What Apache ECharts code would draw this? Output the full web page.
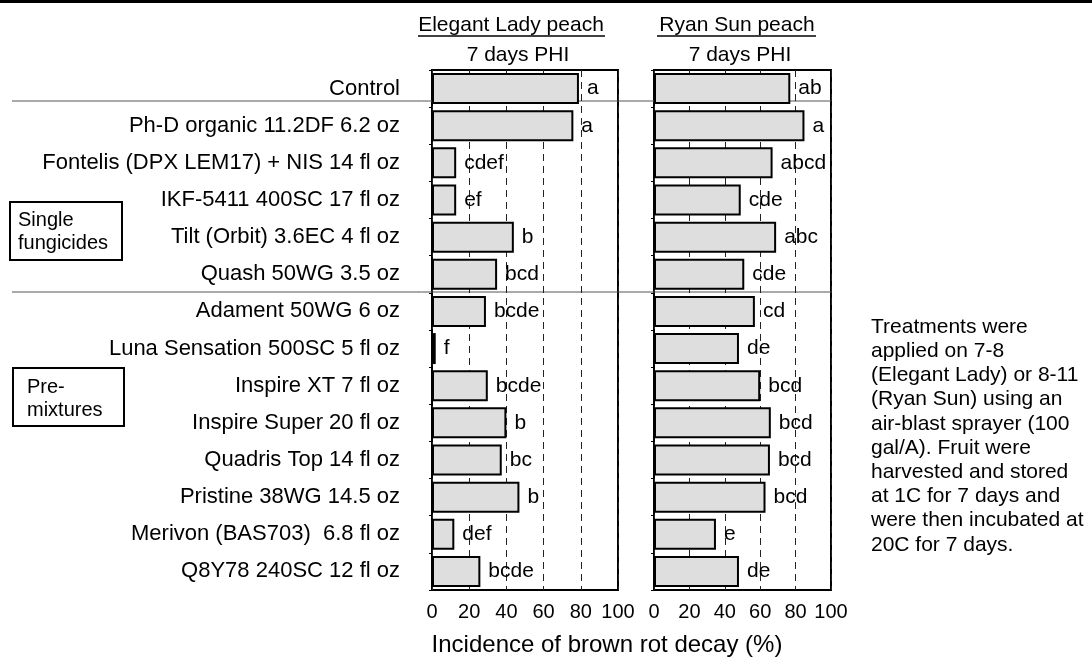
<!DOCTYPE html>
<html>
<head>
<meta charset="utf-8">
<script src="https://cdn.jsdelivr.net/npm/echarts@6/dist/echarts.min.js"></script>
<style>
  html, body { margin: 0; padding: 0; background: #fff; }
  #main { width: 1092px; height: 657px; }
</style>
</head>
<body>
<div id="main"></div>
<script>
// treatments, top to bottom
var categories = [
  'Control',
  'Ph-D organic 11.2DF 6.2 oz',
  'Fontelis (DPX LEM17) + NIS 14 fl oz',
  'IKF-5411 400SC 17 fl oz',
  'Tilt (Orbit) 3.6EC 4 fl oz',
  'Quash 50WG 3.5 oz',
  'Adament 50WG 6 oz',
  'Luna Sensation 500SC 5 fl oz',
  'Inspire XT 7 fl oz',
  'Inspire Super 20 fl oz',
  'Quadris Top 14 fl oz',
  'Pristine 38WG 14.5 oz',
  'Merivon (BAS703)  6.8 fl oz',
  'Q8Y78 240SC 12 fl oz'
]
// Elegant Lady peach, incidence (%)
var elegantValues = [79, 76, 13, 13, 44, 35, 29, 2, 30, 40, 37.5, 47, 12, 26]
var elegantLetters = ['a', 'a', 'cdef', 'ef', 'b', 'bcd', 'bcde', 'f', 'bcde', 'b', 'bc', 'b', 'def', 'bcde']
// Ryan Sun peach, incidence (%)
var ryanValues = [77, 85, 67, 49, 69, 51, 57, 48, 60, 66, 65.5, 63, 35, 48]
var ryanLetters = ['ab', 'a', 'abcd', 'cde', 'abc', 'cde', 'cd', 'de', 'bcd', 'bcd', 'bcd', 'bcd', 'e', 'de']
var xTicks = [0, 20, 40, 60, 80, 100]

var noteLines = [
  'Treatments were',
  'applied on 7-8',
  '(Elegant Lady) or 8-11',
  '(Ryan Sun) using an',
  'air-blast sprayer (100',
  'gal/A). Fruit were',
  'harvested and stored',
  'at 1C for 7 days and',
  'were then incubated at',
  '20C for 7 days.'
]

var FONT = '"Liberation Sans", Arial, sans-serif'

var chart = echarts.init(document.getElementById('main'))

function xAxisFor (gridIndex) {
  return {
    type: 'value',
    gridIndex: gridIndex,
    min: xTicks[0],
    max: xTicks[xTicks.length - 1],
    interval: 20,
    axisLine: { show: false },
    axisTick: { show: false },
    axisLabel: { color: '#000', fontSize: 20, fontFamily: FONT, margin: 12 },
    splitLine: { show: true, lineStyle: { color: '#222', type: [7, 5], width: 1 } }
  }
}

function yAxisFor (gridIndex, showLabels) {
  return {
    type: 'category',
    gridIndex: gridIndex,
    data: categories,
    inverse: true,
    axisLine: { show: false },
    axisTick: { show: true, length: 3, lineStyle: { color: '#000' } },
    axisLabel: { show: showLabels, color: '#000', fontSize: 22, fontFamily: FONT, margin: 32 }
  }
}

function barSeries (idx, values, letters) {
  return {
    type: 'bar',
    xAxisIndex: idx,
    yAxisIndex: idx,
    data: values,
    barWidth: 31,
    itemStyle: { color: '#dedede', borderColor: '#000', borderWidth: 2 },
    label: {
      show: true,
      position: 'right',
      distance: 8,
      color: '#000',
      fontSize: 21,
      fontFamily: FONT,
      formatter: function (p) { return letters[p.dataIndex] }
    },
    z: 3
  }
}

var graphics = [
  { type: 'rect', shape: { x: 0, y: 0, width: 1092, height: 3 }, style: { fill: '#000' } },
  // separators between control / single / premixes
  { type: 'line', shape: { x1: 12, y1: 101, x2: 831, y2: 101 }, style: { stroke: '#555', lineWidth: 1 }, z: 0 },
  { type: 'line', shape: { x1: 12, y1: 292, x2: 831, y2: 292 }, style: { stroke: '#555', lineWidth: 1 }, z: 0 },
  // headers
  { type: 'text', x: 511, y: 25, style: { text: 'Elegant Lady peach', font: '21px ' + FONT, fill: '#000', textAlign: 'center', textVerticalAlign: 'middle' } },
  { type: 'line', shape: { x1: 418, y1: 36, x2: 605, y2: 36 }, style: { stroke: '#000', lineWidth: 1.5 } },
  { type: 'text', x: 518, y: 55, style: { text: '7 days PHI', font: '21px ' + FONT, fill: '#000', textAlign: 'center', textVerticalAlign: 'middle' } },
  { type: 'text', x: 737, y: 25, style: { text: 'Ryan Sun peach', font: '21px ' + FONT, fill: '#000', textAlign: 'center', textVerticalAlign: 'middle' } },
  { type: 'line', shape: { x1: 657, y1: 36, x2: 816, y2: 36 }, style: { stroke: '#000', lineWidth: 1.5 } },
  { type: 'text', x: 740, y: 55, style: { text: '7 days PHI', font: '21px ' + FONT, fill: '#000', textAlign: 'center', textVerticalAlign: 'middle' } },
  // group boxes
  { type: 'rect', shape: { x: 10, y: 202, width: 112, height: 58 }, style: { fill: 'none', stroke: '#000', lineWidth: 2 } },
  { type: 'text', x: 18, y: 220, style: { text: 'Single', font: '20px ' + FONT, fill: '#000', textVerticalAlign: 'middle' } },
  { type: 'text', x: 18, y: 243, style: { text: 'fungicides', font: '20px ' + FONT, fill: '#000', textVerticalAlign: 'middle' } },
  { type: 'rect', shape: { x: 13, y: 368, width: 111, height: 58 }, style: { fill: 'none', stroke: '#000', lineWidth: 2 } },
  { type: 'text', x: 27, y: 387, style: { text: 'Pre-', font: '20px ' + FONT, fill: '#000', textVerticalAlign: 'middle' } },
  { type: 'text', x: 27, y: 410, style: { text: 'mixtures', font: '20px ' + FONT, fill: '#000', textVerticalAlign: 'middle' } },
  // axis title
  { type: 'text', x: 607, y: 645, style: { text: 'Incidence of brown rot decay (%)', font: '24px ' + FONT, fill: '#000', textAlign: 'center', textVerticalAlign: 'middle' } },
  // note
  { type: 'text', x: 871, y: 315, style: { text: noteLines.join('\n'), font: '21px ' + FONT, lineHeight: 24.2, fill: '#000', textVerticalAlign: 'top' } }
]

var options = {
  backgroundColor: '#fff',
  animation: false,
  grid: [
    { left: 432, top: 70, width: 186, height: 520, show: true, borderColor: '#000', borderWidth: 2, backgroundColor: 'transparent' },
    { left: 654, top: 70, width: 177, height: 520, show: true, borderColor: '#000', borderWidth: 2, backgroundColor: 'transparent' }
  ],
  xAxis: [xAxisFor(0), xAxisFor(1)],
  yAxis: [yAxisFor(0, true), yAxisFor(1, false)],
  series: [
    barSeries(0, elegantValues, elegantLetters),
    barSeries(1, ryanValues, ryanLetters)
  ],
  graphic: graphics
}
chart.setOption(options)
</script>
</body>
</html>
